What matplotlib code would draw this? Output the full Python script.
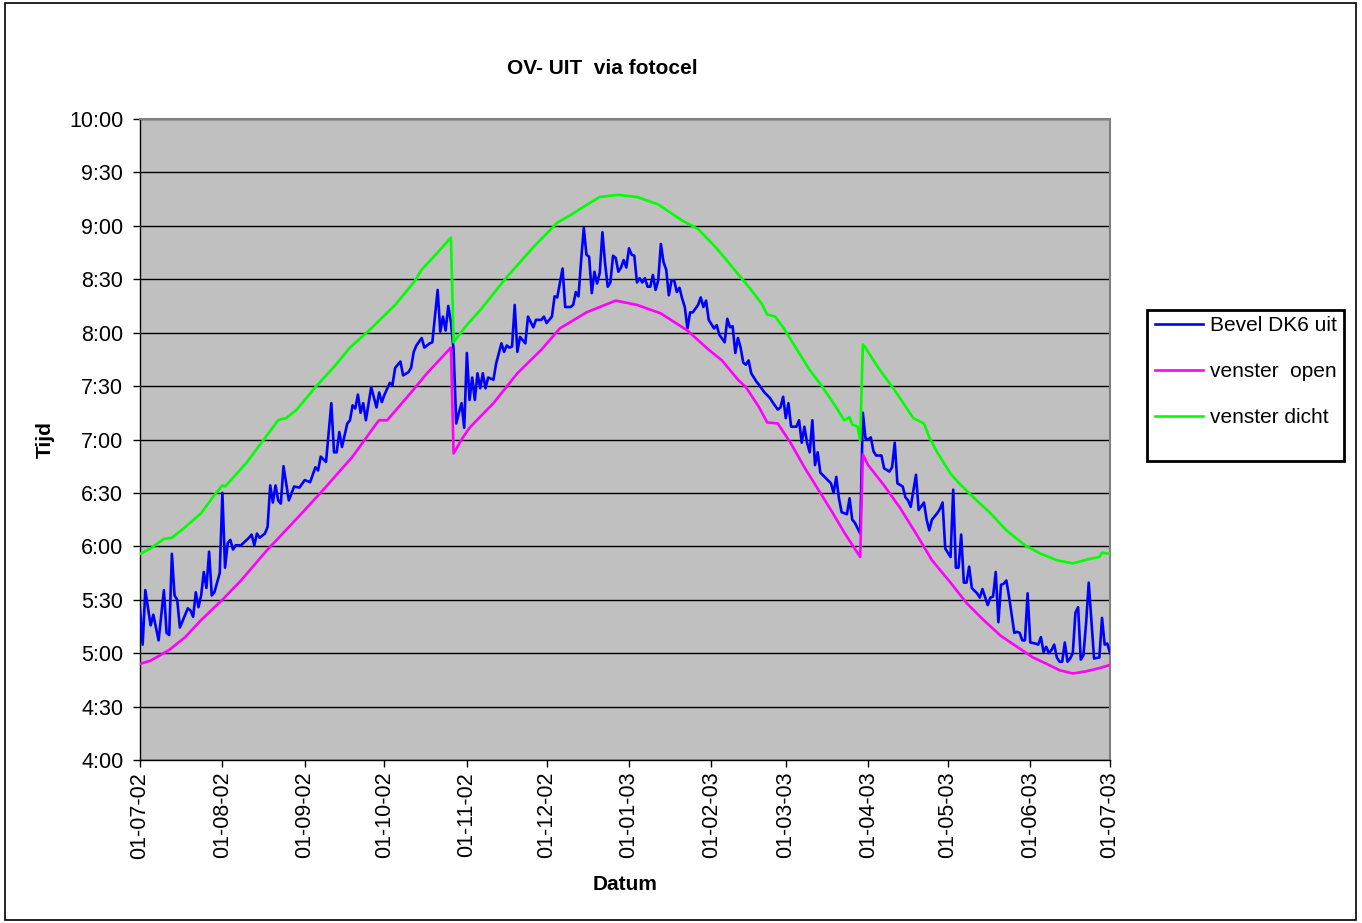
import numpy as np
import pandas as pd
import matplotlib
matplotlib.use("Agg")
from matplotlib import pyplot as plt
import matplotlib.dates as mdates
from matplotlib.patches import Rectangle

plt.rcParams['font.family'] = ['Liberation Sans', 'DejaVu Sans']

start = pd.Timestamp('2002-07-01')

# Bevel DK6 uit  (day offset from 01-07-02, decimal hours)
blue_day = [0, 1, 2, 4, 5, 7, 9, 10, 11, 12, 13, 14, 15, 18, 19, 20, 21, 22, 23, 24,
            25, 26, 27, 28, 30, 31, 32, 33, 34, 35, 36, 38, 41, 42, 43, 44, 45, 47, 48, 49,
            50, 51, 52, 53, 54, 56, 58, 60, 62, 64, 66, 67, 68, 70, 72, 73, 74, 75, 76, 78,
            79, 80, 81, 82, 83, 84, 85, 87, 89, 90, 91, 92, 94, 95, 96, 98, 99, 101, 102, 103,
            104, 106, 107, 109, 110, 112, 113, 114, 115, 116, 117, 118, 119, 120, 121, 122, 123, 124, 125, 126,
            127, 128, 129, 130, 131, 133, 134, 136, 137, 138, 139, 140, 141, 142, 143, 145, 146, 148, 149, 151,
            152, 153, 155, 156, 157, 159, 160, 162, 163, 164, 165, 166, 167, 168, 169, 170, 171, 172, 173, 174,
            175, 176, 177, 178, 179, 180, 181, 182, 183, 184, 185, 186, 187, 188, 189, 190, 191, 192, 193, 194,
            195, 196, 197, 198, 199, 200, 201, 202, 203, 204, 205, 206, 207, 208, 210, 211, 212, 213, 214, 216,
            217, 218, 220, 221, 222, 223, 224, 225, 226, 227, 228, 229, 230, 232, 233, 235, 237, 238, 240, 241,
            242, 243, 244, 245, 247, 248, 249, 250, 251, 252, 253, 254, 255, 256, 258, 260, 261, 262, 263, 264,
            266, 267, 268, 269, 270, 271, 272, 273, 274, 275, 276, 277, 279, 280, 282, 283, 284, 285, 287, 288,
            289, 290, 292, 293, 295, 296, 297, 298, 300, 301, 302, 303, 305, 306, 307, 308, 309, 310, 311, 312,
            313, 315, 316, 317, 319, 320, 321, 322, 323, 324, 325, 326, 327, 329, 330, 331, 332, 333, 334, 335,
            337, 338, 339, 340, 341, 342, 343, 344, 345, 346, 347, 348, 349, 350, 351, 352, 353, 354, 355, 356,
            357, 358, 359, 361, 362, 363, 364, 365]
blue_val = [5.42, 5.08, 5.59, 5.26, 5.36, 5.12, 5.59, 5.19, 5.17, 5.93, 5.54, 5.50, 5.24, 5.42, 5.40, 5.34, 5.57, 5.43, 5.54, 5.76,
            5.61, 5.95, 5.54, 5.57, 5.75, 6.50, 5.80, 6.03, 6.06, 5.97, 6.01, 6.01, 6.08, 6.11, 6.01, 6.12, 6.08, 6.12, 6.18, 6.57,
            6.41, 6.57, 6.43, 6.40, 6.75, 6.43, 6.56, 6.55, 6.62, 6.60, 6.74, 6.71, 6.84, 6.79, 7.34, 6.88, 6.88, 7.07, 6.93, 7.15,
            7.18, 7.32, 7.29, 7.42, 7.25, 7.34, 7.18, 7.49, 7.30, 7.44, 7.35, 7.42, 7.53, 7.51, 7.67, 7.73, 7.60, 7.63, 7.67, 7.82,
            7.88, 7.95, 7.86, 7.90, 7.91, 8.40, 8.01, 8.15, 8.02, 8.25, 8.10, 7.84, 7.15, 7.25, 7.34, 7.11, 7.81, 7.37, 7.58, 7.37,
            7.62, 7.48, 7.62, 7.48, 7.58, 7.56, 7.71, 7.90, 7.82, 7.88, 7.86, 7.87, 8.26, 7.82, 7.96, 7.90, 8.15, 8.05, 8.12, 8.12,
            8.15, 8.09, 8.15, 8.34, 8.33, 8.60, 8.24, 8.24, 8.26, 8.38, 8.34, 8.68, 8.98, 8.73, 8.71, 8.37, 8.57, 8.46, 8.56, 8.94,
            8.65, 8.43, 8.47, 8.72, 8.70, 8.57, 8.61, 8.68, 8.61, 8.79, 8.73, 8.72, 8.47, 8.51, 8.47, 8.51, 8.43, 8.43, 8.54, 8.40,
            8.49, 8.83, 8.66, 8.59, 8.35, 8.49, 8.49, 8.38, 8.42, 8.32, 8.24, 8.04, 8.19, 8.19, 8.26, 8.33, 8.24, 8.30, 8.12, 8.04,
            8.07, 7.98, 7.91, 8.13, 8.05, 8.06, 7.81, 7.95, 7.86, 7.72, 7.70, 7.74, 7.62, 7.54, 7.51, 7.44, 7.39, 7.35, 7.28, 7.30,
            7.40, 7.20, 7.34, 7.12, 7.12, 7.18, 6.97, 7.12, 6.97, 6.88, 7.18, 6.76, 6.88, 6.69, 6.64, 6.59, 6.50, 6.65, 6.45, 6.32,
            6.30, 6.45, 6.25, 6.22, 6.17, 6.12, 7.25, 7.01, 7.00, 7.02, 6.89, 6.85, 6.85, 6.73, 6.70, 6.74, 6.97, 6.59, 6.56, 6.46,
            6.43, 6.37, 6.67, 6.34, 6.41, 6.25, 6.15, 6.25, 6.31, 6.35, 6.41, 5.98, 5.90, 6.53, 5.80, 5.80, 6.11, 5.66, 5.66, 5.81,
            5.61, 5.56, 5.52, 5.60, 5.45, 5.52, 5.53, 5.76, 5.29, 5.64, 5.65, 5.68, 5.53, 5.19, 5.20, 5.19, 5.12, 5.12, 5.56, 5.10,
            5.09, 5.08, 5.15, 5.01, 5.06, 5.00, 5.03, 5.08, 4.96, 4.92, 4.92, 5.10, 4.92, 4.95, 5.00, 5.38, 5.43, 4.94, 4.98, 5.28,
            5.66, 5.31, 4.95, 4.96, 5.33, 5.08, 5.09, 5.00]

# venster open
open_day = [0, 4, 11, 17, 23, 31, 38, 48, 56, 62, 69, 80, 89, 90, 93, 102, 108, 117,
            118, 121, 124, 133, 142, 151, 158, 168, 179, 187, 196, 206, 214, 219, 225, 228, 233, 236, 240,
            245, 250, 255, 260, 265, 271,
            272, 274, 280, 286, 292, 298, 305, 311, 317, 324, 330, 336, 342, 346, 351, 356, 361, 365]
open_val = [4.90, 4.93, 5.03, 5.15, 5.31, 5.50, 5.68, 5.97, 6.18, 6.34, 6.53, 6.84, 7.15, 7.18, 7.18, 7.44, 7.62, 7.86,
            6.87, 7.00, 7.11, 7.34, 7.62, 7.84, 8.04, 8.19, 8.30, 8.26, 8.18, 8.02, 7.84, 7.74, 7.56, 7.49, 7.30, 7.16, 7.15,
            6.96, 6.74, 6.54, 6.34, 6.13, 5.90,
            6.86, 6.76, 6.57, 6.36, 6.12, 5.87, 5.66, 5.47, 5.32, 5.16, 5.06, 4.96, 4.89, 4.84, 4.81, 4.83, 4.86, 4.89]

# venster dicht
dicht_day = [0, 4, 9, 12, 17, 23, 28, 31, 32, 40, 52, 53, 55, 57, 59, 66, 73, 79, 87, 96, 103, 106, 112, 117,
             118, 121, 124, 128, 138, 148, 157, 162, 167, 173, 180, 187, 195, 204, 210, 217, 223, 229, 234, 236,
             239, 242, 248, 252, 256, 262, 265, 267, 268, 270, 271,
             272, 273, 276, 279, 284, 287, 291, 295, 297, 300, 305, 309, 314, 320, 326, 333, 339, 345, 351, 357,
             361, 362, 365]
dicht_val = [5.93, 5.98, 6.07, 6.08, 6.18, 6.31, 6.48, 6.57, 6.56, 6.78, 7.18, 7.19, 7.20, 7.24, 7.28, 7.49, 7.68, 7.86, 8.04, 8.26, 8.47, 8.59, 8.75, 8.89,
             7.91, 8.01, 8.10, 8.21, 8.52, 8.80, 9.03, 9.10, 9.18, 9.27, 9.29, 9.27, 9.20, 9.05, 8.97, 8.79, 8.61, 8.43, 8.27, 8.17,
             8.15, 8.05, 7.81, 7.65, 7.52, 7.30, 7.18, 7.21, 7.14, 7.12, 6.99,
             7.89, 7.86, 7.74, 7.63, 7.46, 7.35, 7.20, 7.15, 7.02, 6.88, 6.68, 6.57, 6.45, 6.31, 6.15, 6.01, 5.93, 5.87, 5.84, 5.88,
             5.90, 5.94, 5.93]

month_ticks = pd.date_range('2002-07-01', '2003-07-01', freq='MS')


def to_dates(days):
    return start + pd.to_timedelta(days, unit='D')


def hm(v, pos=None):
    h = int(v)
    m = int(round((v - h) * 60))
    return f"{h}:{m:02d}"


fig = plt.figure(figsize=(13.62, 9.23), dpi=100)
ax = fig.add_axes([140 / 1362, 1 - 760 / 923, 970 / 1362, 641 / 923])
ax.set_facecolor('#C0C0C0')

ax.plot(to_dates(blue_day), blue_val, color='#0000FF', lw=1.9, label='Bevel DK6 uit', zorder=3)
ax.plot(to_dates(open_day), open_val, color='#FF00FF', lw=1.9, label='venster  open', zorder=4)
ax.plot(to_dates(dicht_day), dicht_val, color='#00FF00', lw=1.9, label='venster dicht', zorder=5)

ax.set_ylim(4, 10)
ax.set_yticks(np.arange(4, 10.01, 0.5))
ax.yaxis.set_major_formatter(plt.FuncFormatter(hm))
ax.set_xlim(month_ticks[0], month_ticks[-1])
ax.set_xticks(month_ticks)
ax.xaxis.set_major_formatter(mdates.DateFormatter('%d-%m-%y'))
ax.grid(axis='y', color='black', lw=1)
ax.set_axisbelow(True)

ax.tick_params(axis='both', direction='out', length=5, width=1, labelsize=15.5, color='black')
ax.tick_params(axis='y', pad=7)
plt.setp(ax.get_xticklabels(), rotation=90)
for s in ['top', 'right']:
    ax.spines[s].set_color('#808080')
    ax.spines[s].set_linewidth(1.5)
for s in ['left', 'bottom']:
    ax.spines[s].set_color('black')
    ax.spines[s].set_linewidth(1)

fig.text(602 / 1362, 1 - 68 / 923, 'OV- UIT  via fotocel', ha='center', va='center',
         fontsize=15, fontweight='bold')
fig.text(625 / 1362, 1 - 884 / 923, 'Datum', ha='center', va='center', fontsize=15, fontweight='bold')
fig.text(45 / 1362, 1 - 440 / 923, 'Tijd', ha='center', va='center', rotation=90,
         fontsize=15, fontweight='bold')

# legend box
fig.patches.append(Rectangle((1147 / 1362, 1 - 461 / 923), 197 / 1362, 151 / 923,
                             transform=fig.transFigure, fill=False, edgecolor='black', lw=2))
fig.legend(loc='upper left', bbox_to_anchor=(1155 / 1362, 1 - 316 / 923), frameon=False,
           fontsize=15, handlelength=2.3, handletextpad=0.35, labelspacing=1.3, borderpad=0,
           borderaxespad=0)

# outer border of the chart
fig.patches.append(Rectangle((5 / 1362, 3 / 923), 1351 / 1362, 917 / 923,
                             transform=fig.transFigure, fill=False, edgecolor='black', lw=1.2))

fig.savefig('out.png', dpi=100)
